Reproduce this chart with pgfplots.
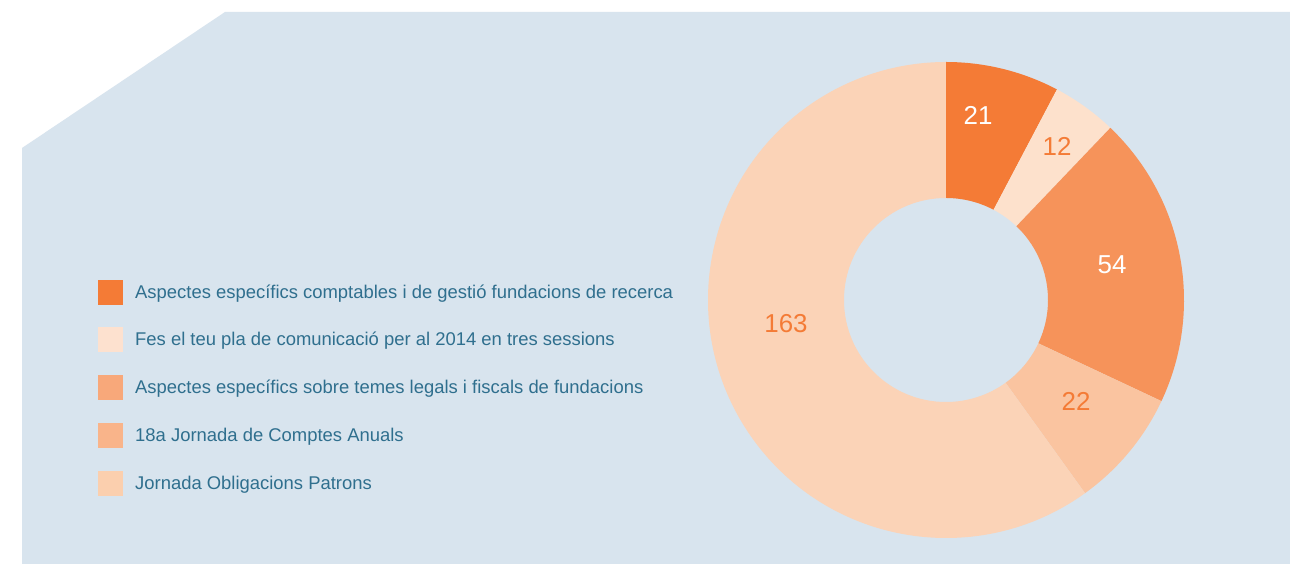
\documentclass[border=0pt]{standalone}
\usepackage{pgfplots}
\pgfplotsset{compat=1.18}
\usepackage{pgfplotstable}
\usepackage{fontspec}
\setmainfont{Liberation Sans}
\definecolor{bg}{HTML}{D8E4EE}
\definecolor{txt}{HTML}{2F6F8E}
\definecolor{sA}{HTML}{F47B36}
\definecolor{sB}{HTML}{FDE1CC}
\definecolor{sC}{HTML}{F6935A}
\definecolor{sD}{HTML}{FAC4A0}
\definecolor{sE}{HTML}{FBD3B7}
\definecolor{lA}{HTML}{F47B36}
\definecolor{lB}{HTML}{FDE1CF}
\definecolor{lC}{HTML}{F8A87A}
\definecolor{lD}{HTML}{F9B48A}
\definecolor{lE}{HTML}{FBCFAE}
\definecolor{num}{HTML}{F47B36}
\pgfplotstableread{
id value
1 21
2 12
3 54
4 22
5 163
}\piedata
\newcommand\legitem[3]{%
  \fill[#2] (axis cs:98,#1-12.5) rectangle (axis cs:123,#1+12.5);
  \node[anchor=west, inner sep=0pt, text=txt, font=\fontsize{18.5}{18.5}\selectfont] at (axis cs:135,#1-1) {#3};}
\begin{document}
\begin{tikzpicture}
\pgfplotstablegetelem{0}{value}\of\piedata \let\vA\pgfplotsretval
\pgfplotstablegetelem{1}{value}\of\piedata \let\vB\pgfplotsretval
\pgfplotstablegetelem{2}{value}\of\piedata \let\vC\pgfplotsretval
\pgfplotstablegetelem{3}{value}\of\piedata \let\vD\pgfplotsretval
\pgfplotstablegetelem{4}{value}\of\piedata \let\vE\pgfplotsretval
\pgfmathsetmacro\tot{\vA+\vB+\vC+\vD+\vE}
\pgfmathsetmacro\aA{90}
\pgfmathsetmacro\aB{\aA-\vA/\tot*360}
\pgfmathsetmacro\aC{\aB-\vB/\tot*360}
\pgfmathsetmacro\aD{\aC-\vC/\tot*360}
\pgfmathsetmacro\aE{\aD-\vD/\tot*360}
\pgfmathsetmacro\aF{\aE-\vE/\tot*360}
\def\cx{946}\def\cy{264}\def\R{238}\def\r{102}
\newcommand\slice[3]{%
  \fill[#3] (axis cs:{\cx+\R*cos(#1)},{\cy+\R*sin(#1)})
    arc[start angle=#1, end angle=#2, radius=\R bp]
    -- (axis cs:{\cx+\r*cos(#2)},{\cy+\r*sin(#2)})
    arc[start angle=#2, end angle=#1, radius=\r bp] -- cycle;}
\begin{axis}[x=1bp, y=1bp, xmin=0, xmax=1290, ymin=0, ymax=564,
  hide axis, clip=false, scale only axis]
\fill[white] (axis cs:0,0) rectangle (axis cs:1290,564);
\fill[bg] (axis cs:22,0) -- (axis cs:22,416) -- (axis cs:225,552)
  -- (axis cs:1290,552) -- (axis cs:1290,0) -- cycle;
\slice{\aA}{\aB}{sA}
\slice{\aB}{\aC}{sB}
\slice{\aC}{\aD}{sC}
\slice{\aD}{\aE}{sD}
\slice{\aE}{\aF}{sE}
\node[text=white, font=\fontsize{26}{26}\selectfont] at (axis cs:978,449) {\vA};
\node[text=num, font=\fontsize{26}{26}\selectfont] at (axis cs:1057,418) {\vB};
\node[text=white, font=\fontsize{26}{26}\selectfont] at (axis cs:1112,299) {\vC};
\node[text=num, font=\fontsize{26}{26}\selectfont] at (axis cs:1076,163) {\vD};
\node[text=num, font=\fontsize{26}{26}\selectfont] at (axis cs:786,240) {\vE};
\legitem{271}{lA}{Aspectes específics comptables i de gestió fundacions de recerca}
\legitem{224}{lB}{Fes el teu pla de comunicació per al 2014 en tres sessions}
\legitem{176}{lC}{Aspectes específics sobre temes legals i fiscals de fundacions}
\legitem{128}{lD}{18a Jornada de Comptes Anuals}
\legitem{80}{lE}{Jornada Obligacions Patrons}
\end{axis}
\end{tikzpicture}
\end{document}
